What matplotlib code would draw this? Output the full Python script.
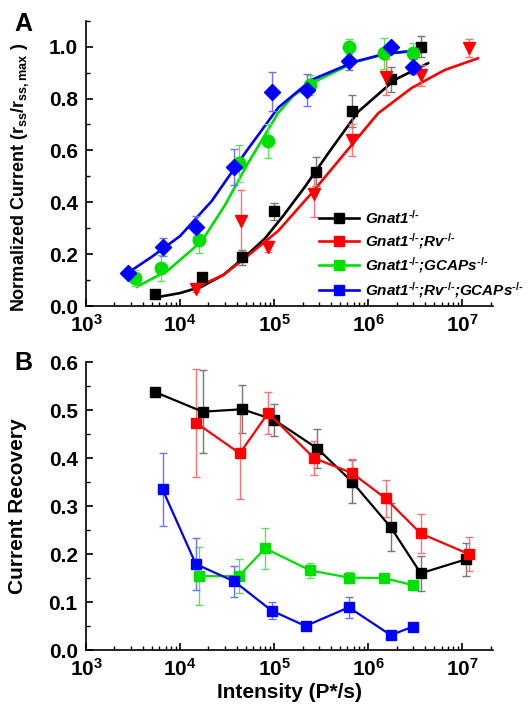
import numpy as np
import matplotlib
matplotlib.use("Agg")
import matplotlib.pyplot as plt
from matplotlib.lines import Line2D
from matplotlib.ticker import MultipleLocator, LogLocator, FuncFormatter, NullFormatter

plt.rcParams["font.family"] = "Liberation Sans"
plt.rcParams["font.weight"] = "bold"
plt.rcParams["axes.labelweight"] = "bold"
plt.rcParams["mathtext.fontset"] = "custom"
plt.rcParams["mathtext.rm"] = "Liberation Sans:bold"
plt.rcParams["mathtext.it"] = "Liberation Sans:italic:bold"
plt.rcParams["mathtext.bf"] = "Liberation Sans:bold"
plt.rcParams["mathtext.default"] = "regular"

# ---- panel A: normalized steady-state current ----
blk_x_a = [5.4e3, 1.7e4, 4.5e4, 1.0e5, 2.8e5, 6.7e5, 1.73e6, 3.6e6]
blk_y_a = [0.046, 0.113, 0.188, 0.366, 0.518, 0.752, 0.875, 1.000]
blk_e_a = [0.005, 0.015, 0.028, 0.033, 0.055, 0.062, 0.048, 0.040]

red_x_a = [1.47e4, 4.4e4, 8.6e4, 2.66e5, 6.7e5, 1.55e6, 3.6e6, 1.16e7]
red_y_a = [0.064, 0.328, 0.229, 0.432, 0.640, 0.884, 0.890, 0.996]
red_e_a = [0.010, 0.120, 0.020, 0.090, 0.060, 0.070, 0.040, 0.035]

grn_x_a = [3.3e3, 6.2e3, 1.59e4, 4.2e4, 8.5e4, 2.39e5, 6.24e5, 1.47e6, 2.97e6]
grn_y_a = [0.109, 0.145, 0.255, 0.550, 0.636, 0.852, 1.000, 0.974, 0.974]
grn_e_a = [0.030, 0.050, 0.050, 0.070, 0.065, 0.040, 0.030, 0.060, 0.040]

blu_x_a = [2.8e3, 6.5e3, 1.47e4, 3.77e4, 9.5e4, 2.25e5, 6.2e5, 1.73e6, 3.0e6]
blu_y_a = [0.129, 0.229, 0.306, 0.537, 0.826, 0.833, 0.946, 1.000, 0.923]
blu_e_a = [0.010, 0.035, 0.040, 0.070, 0.075, 0.060, 0.035, 0.010, 0.030]

# fitted curves (log10 intensity, response)
blk_fit_logx = [3.77, 4.0, 4.23, 4.46, 4.69, 4.9, 5.1, 5.327, 5.574, 5.892, 6.28, 6.634]
blk_fit_y = [0.035, 0.050, 0.075, 0.120, 0.190, 0.260, 0.350, 0.460, 0.589, 0.749, 0.872, 0.936]
red_fit_logx = [4.17, 4.46, 4.69, 5.043, 5.397, 5.75, 6.104, 6.458, 6.811, 7.164]
red_fit_y = [0.072, 0.120, 0.185, 0.290, 0.435, 0.589, 0.743, 0.840, 0.910, 0.955]
grn_fit_logx = [3.54, 3.877, 4.23, 4.478, 4.72, 5.043, 5.2, 5.397, 5.856, 6.175, 6.546]
grn_fit_y = [0.074, 0.139, 0.250, 0.390, 0.550, 0.745, 0.810, 0.859, 0.940, 0.972, 0.985]
blu_fit_logx = [3.453, 3.70, 4.0, 4.336, 4.70, 5.043, 5.397, 5.856, 6.175, 6.546]
blu_fit_y = [0.130, 0.190, 0.270, 0.405, 0.595, 0.765, 0.872, 0.942, 0.972, 0.987]

# ---- panel B: current recovery ----
blk_x_b = [5.4e3, 1.73e4, 4.57e4, 1.0e5, 2.88e5, 6.7e5, 1.73e6, 3.6e6, 1.09e7]
blk_y_b = [0.538, 0.497, 0.502, 0.480, 0.420, 0.351, 0.256, 0.160, 0.189]
blk_e_b = [0.000, 0.086, 0.050, 0.033, 0.040, 0.045, 0.050, 0.037, 0.035]

red_x_b = [1.47e4, 4.3e4, 8.6e4, 2.66e5, 6.7e5, 1.53e6, 3.6e6, 1.17e7]
red_y_b = [0.474, 0.410, 0.494, 0.400, 0.369, 0.316, 0.243, 0.200]
red_e_b = [0.113, 0.095, 0.043, 0.036, 0.030, 0.038, 0.040, 0.035]

grn_x_b = [1.59e4, 4.2e4, 8.0e4, 2.4e5, 6.2e5, 1.47e6, 3.0e6]
grn_y_b = [0.154, 0.154, 0.212, 0.166, 0.151, 0.150, 0.135]
grn_e_b = [0.060, 0.035, 0.043, 0.015, 0.012, 0.000, 0.010]

blu_x_b = [6.5e3, 1.47e4, 3.77e4, 9.4e4, 2.15e5, 6.2e5, 1.73e6, 3.0e6]
blu_y_b = [0.335, 0.179, 0.143, 0.082, 0.050, 0.089, 0.031, 0.049]
blu_e_b = [0.076, 0.054, 0.033, 0.018, 0.000, 0.022, 0.000, 0.000]

ko = r"$^{\text{-/-}}$"
labels = ["Gnat1" + ko,
          "Gnat1" + ko + ";Rv" + ko,
          "Gnat1" + ko + ";GCAPs" + ko,
          "Gnat1" + ko + ";Rv" + ko + ";GCAPs" + ko]
colors = ["black", "red", "#00e000", "blue"]
ecolors = ["#777777", "#ff7070", "#60e060", "#7070ff"]

fig = plt.figure(figsize=(5.31, 7.04), dpi=100)
axA = fig.add_axes([0.162, 0.5653, 0.766, 0.4053])
axB = fig.add_axes([0.162, 0.0767, 0.766, 0.4087])


def style_axis(ax):
    ax.set_xscale("log")
    ax.set_xlim(1e3, 2.1e7)
    for s in ["top", "right"]:
        ax.spines[s].set_visible(False)
    for s in ["left", "bottom"]:
        ax.spines[s].set_linewidth(1.2)
    ax.xaxis.set_major_locator(LogLocator(base=10, numticks=10))
    ax.xaxis.set_minor_locator(LogLocator(base=10, subs=np.arange(2, 10), numticks=20))
    ax.xaxis.set_minor_formatter(NullFormatter())
    ax.xaxis.set_major_formatter(FuncFormatter(lambda v, p: r"$10^{%d}$" % round(np.log10(v))))
    ax.tick_params(which="major", direction="in", length=5, width=1.2, labelsize=15, pad=6)
    ax.tick_params(which="minor", direction="in", length=3, width=1.0)


# panel A
fits = [(blk_fit_logx, blk_fit_y), (red_fit_logx, red_fit_y),
        (grn_fit_logx, grn_fit_y), (blu_fit_logx, blu_fit_y)]
pts = [(blk_x_a, blk_y_a, blk_e_a, "s", 7),
       (red_x_a, red_y_a, red_e_a, "v", 9),
       (grn_x_a, grn_y_a, grn_e_a, "o", 9),
       (blu_x_a, blu_y_a, blu_e_a, "D", 8.5)]
for (fx, fy), c in zip(fits, colors):
    axA.plot(10 ** np.array(fx), fy, color=c, lw=1.9, zorder=2, solid_joinstyle="round")
for (x, y, e, m, ms), c, ec in zip(pts, colors, ecolors):
    axA.errorbar(x, y, yerr=e, fmt=m, ms=ms, color=c, ecolor=ec, elinewidth=1,
                 capsize=3, capthick=1, mec=c, zorder=3)

style_axis(axA)
axA.set_ylim(0, 1.1)
axA.yaxis.set_major_locator(MultipleLocator(0.2))
axA.yaxis.set_minor_locator(MultipleLocator(0.1))
axA.yaxis.set_major_formatter(FuncFormatter(lambda v, p: "%.1f" % v))
axA.set_ylabel(r"Normalized Current (r$_{ss}$/r$_{ss,max}$ )", fontsize=13)
axA.yaxis.set_label_coords(-0.135, 0.45)

handles = [Line2D([], [], color=c, lw=1.9, marker="s", ms=7) for c in colors]
axA.legend(handles, labels, loc="lower left", bbox_to_anchor=(0.555, -0.005), frameon=False,
           prop=dict(style="italic", weight="bold", size=11),
           handlelength=2.6, handletextpad=0.4, labelspacing=0.3, borderpad=0)
fig.text(0.028, 0.956, "A", fontsize=18, fontweight="bold")

# panel B
ser_b = [(blk_x_b, blk_y_b, blk_e_b), (red_x_b, red_y_b, red_e_b),
         (grn_x_b, grn_y_b, grn_e_b), (blu_x_b, blu_y_b, blu_e_b)]
for (x, y, e), c, ec in zip(ser_b, colors, ecolors):
    axB.errorbar(x, y, yerr=e, fmt="none", ecolor=ec, elinewidth=1, capsize=3, capthick=1, zorder=2)
    axB.plot(x, y, color=c, lw=1.6, marker="s", ms=7.5, zorder=3)

style_axis(axB)
axB.set_ylim(0, 0.6)
axB.yaxis.set_major_locator(MultipleLocator(0.1))
axB.yaxis.set_minor_locator(MultipleLocator(0.05))
axB.yaxis.set_major_formatter(FuncFormatter(lambda v, p: "%.1f" % v))
axB.set_ylabel("Current Recovery", fontsize=15)
axB.yaxis.set_label_coords(-0.145, 0.5)
axB.set_xlabel("Intensity (P*/s)", fontsize=15, labelpad=2)
fig.text(0.028, 0.474, "B", fontsize=18, fontweight="bold")

fig.savefig("out.png", dpi=100)
